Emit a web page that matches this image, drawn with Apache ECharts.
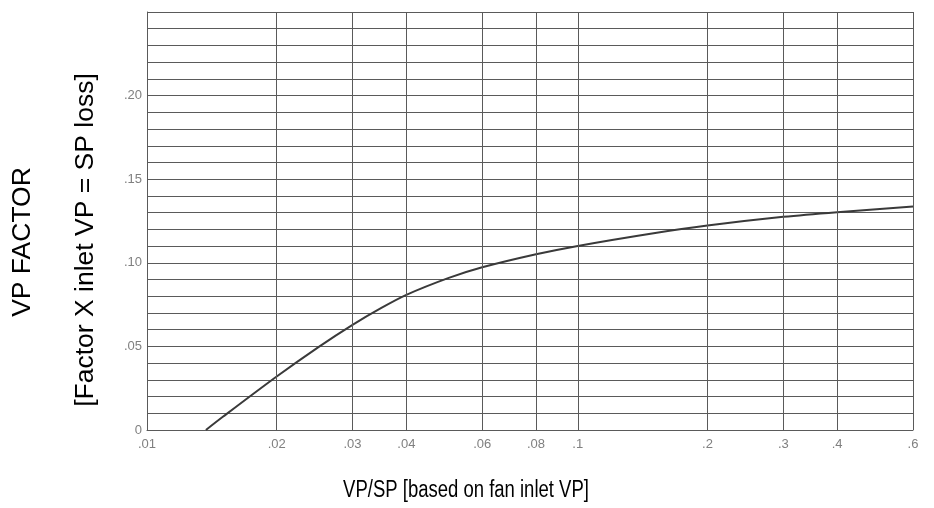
<!DOCTYPE html>
<html>
<head>
<meta charset="utf-8">
<script src="https://cdn.jsdelivr.net/npm/echarts@6/dist/echarts.min.js"></script>
<style>html,body{margin:0;padding:0;background:#fff;}#c{width:934px;height:508px;}</style>
</head>
<body>
<div id="c"></div>
<script>
// Data
var curveX = [0.0137, 0.015, 0.02, 0.025, 0.03, 0.035, 0.04, 0.05, 0.06, 0.08, 0.1, 0.15, 0.2, 0.3, 0.4, 0.6];
var curveY = [0, 0.0079, 0.032, 0.0496, 0.0629, 0.0730, 0.0808, 0.0908, 0.0973, 0.1051, 0.1101, 0.1177, 0.1223, 0.1275, 0.1303, 0.1336];
var xTicks = [0.01, 0.02, 0.03, 0.04, 0.06, 0.08, 0.1, 0.2, 0.3, 0.4, 0.6];
var xTickLabels = ['.01', '.02', '.03', '.04', '.06', '.08', '.1', '.2', '.3', '.4', '.6'];
var yLabelValues = [0, 0.05, 0.10, 0.15, 0.20];
var yTickLabels = ['0', '.05', '.10', '.15', '.20'];

var gridColor = '#5a5a5a';
var labelColor = '#808080';
var chart = echarts.init(document.getElementById('c'));
var pts = curveX.map(function (x, i) { return [x, curveY[i]]; });

chart.setOption({
  animation: false,
  grid: { left: 147, right: 21, top: 12, bottom: 78 },
  xAxis: {
    type: 'log', min: 0.01, max: 0.6, logBase: 10,
    axisLine: { show: true, lineStyle: { color: gridColor, width: 1 } },
    axisTick: { show: false },
    axisLabel: { show: false },
    splitLine: { show: false }
  },
  yAxis: {
    type: 'value', min: 0, max: 0.25, interval: 0.01,
    axisLine: { show: true, lineStyle: { color: gridColor, width: 1 } },
    axisTick: { show: false },
    splitLine: { show: true, lineStyle: { color: gridColor, width: 1 } },
    axisLabel: {
      color: labelColor, fontSize: 13, fontFamily: 'Liberation Sans, Arial', margin: 5,
      formatter: function (v) {
        for (var i = 0; i < yLabelValues.length; i++) {
          if (Math.abs(v - yLabelValues[i]) < 1e-6) return yTickLabels[i];
        }
        return '';
      }
    }
  },
  graphic: [
    { type: 'text', rotation: Math.PI / 2, x: 23, y: 242,
      style: { text: 'VP FACTOR', fill: '#000', font: '26.5px "Liberation Sans", Arial', align: 'center', verticalAlign: 'middle' } },
    { type: 'text', rotation: Math.PI / 2, x: 86, y: 240,
      style: { text: '[Factor X inlet VP = SP loss]', fill: '#000', font: '26.5px "Liberation Sans", Arial', align: 'center', verticalAlign: 'middle' } },
    { type: 'text', x: 466, y: 491, scaleY: 1.25,
      style: { text: 'VP/SP [based on fan inlet VP]', fill: '#000', font: '18.5px "Liberation Sans", Arial', align: 'center', verticalAlign: 'middle' } }
  ],
  series: [{
    type: 'line',
    data: pts,
    smooth: 0.3,
    symbol: 'none',
    lineStyle: { color: '#3a3a3a', width: 2 },
    markLine: {
      silent: true,
      symbol: 'none',
      animation: false,
      lineStyle: { color: gridColor, width: 1, type: 'solid' },
      label: {
        position: 'start', color: labelColor, fontSize: 13, fontFamily: 'Liberation Sans, Arial', distance: 8,
        formatter: function (p) {
          var i = xTicks.indexOf(p.value);
          return i >= 0 ? xTickLabels[i] : '';
        }
      },
      data: xTicks.map(function (v) { return { xAxis: v }; })
    }
  }]
});
</script>
</body>
</html>
